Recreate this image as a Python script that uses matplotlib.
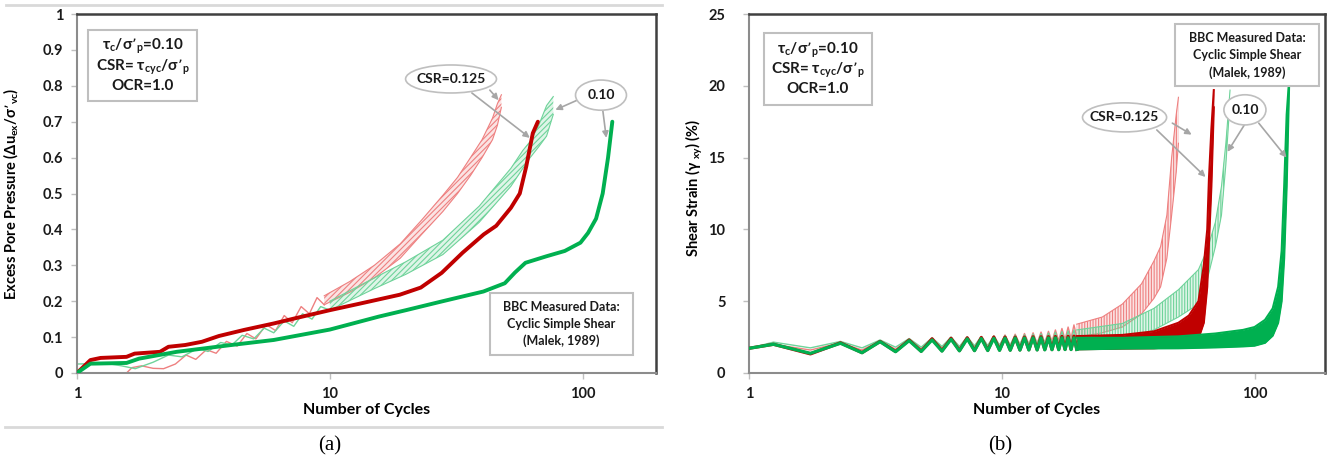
import numpy as np
import matplotlib
matplotlib.use("Agg")
import matplotlib.pyplot as plt
from matplotlib.colors import to_rgba
from matplotlib.patches import Rectangle, Ellipse
from matplotlib.lines import Line2D

plt.rcParams['font.family'] = ['Lato', 'DejaVu Sans']
plt.rcParams['font.weight'] = 'bold'
plt.rcParams['mathtext.default'] = 'regular'
plt.rcParams['hatch.linewidth'] = 0.8

# ---- panel (a): excess pore pressure ----
a_red_n = [1, 1.13, 1.24, 1.57, 1.69, 2.13, 2.3, 2.68, 3.12, 3.64, 4.58, 6.0, 7.25, 10,
           12.9, 18.9, 22.9, 27.7, 33.5, 40.6, 45.5, 52, 56.4, 59.8, 63.5, 66.5]
a_red_v = [0, 0.036, 0.042, 0.045, 0.054, 0.059, 0.073, 0.078, 0.087, 0.103, 0.12, 0.138,
           0.152, 0.175, 0.192, 0.218, 0.238, 0.279, 0.335, 0.386, 0.41, 0.46, 0.50, 0.575,
           0.668, 0.70]

a_green_n = [1, 1.13, 1.57, 1.76, 2.48, 4.08, 6.0, 10, 15.6, 20, 27.6, 40.5, 49.2, 54,
             59.4, 71.8, 85, 98, 105, 113, 120, 126, 131]
a_green_v = [0, 0.026, 0.028, 0.04, 0.059, 0.078, 0.092, 0.121, 0.157, 0.175, 0.199, 0.227,
             0.25, 0.28, 0.307, 0.325, 0.34, 0.363, 0.39, 0.43, 0.5, 0.6, 0.70]

a_pink_n = [1.57, 1.65, 1.8, 2.0, 2.2, 2.45, 2.7, 2.95, 3.25, 3.55, 3.9, 4.3, 4.7, 5.1,
            5.6, 6.1, 6.6, 7.1, 7.7, 8.3, 8.9, 9.5]
a_pink_v = [0.0, 0.015, 0.02, 0.013, 0.012, 0.025, 0.05, 0.038, 0.065, 0.055, 0.088, 0.075,
            0.11, 0.095, 0.135, 0.118, 0.16, 0.14, 0.185, 0.165, 0.21, 0.19]
a_pink_band_n = [9.5, 12, 15, 19, 23, 28, 32, 36, 40, 44, 46, 47.7]
a_pink_lo = [0.19, 0.225, 0.265, 0.32, 0.385, 0.45, 0.5, 0.55, 0.6, 0.65, 0.69, 0.74]
a_pink_hi = [0.215, 0.255, 0.30, 0.36, 0.425, 0.495, 0.545, 0.60, 0.65, 0.71, 0.75, 0.775]

a_lgreen_n = [1, 1.3, 1.5, 1.7, 2.0, 2.3, 2.6, 3.0, 3.3, 3.7, 4.1, 4.5, 5.0, 5.5, 6.0,
              6.6, 7.2, 7.8, 8.5, 9.2, 10]
a_lgreen_v = [0.025, 0.027, 0.02, 0.012, 0.03, 0.05, 0.045, 0.068, 0.06, 0.085, 0.078,
              0.105, 0.095, 0.125, 0.112, 0.145, 0.13, 0.165, 0.15, 0.185, 0.175]
a_lgreen_band_n = [10, 15, 20, 28, 39, 52, 58, 62, 67, 72, 76.5]
a_lgreen_lo = [0.175, 0.235, 0.275, 0.33, 0.42, 0.52, 0.57, 0.60, 0.63, 0.66, 0.72]
a_lgreen_hi = [0.20, 0.265, 0.31, 0.37, 0.465, 0.57, 0.62, 0.645, 0.69, 0.745, 0.77]

# ---- panel (b): shear strain, turning points of each cycle up to N~20 ----
b_turn_n = [1, 1.25, 1.75, 2.3, 2.8, 3.3, 3.8, 4.3, 4.8, 5.3, 5.8, 6.3, 6.8, 7.3, 7.8,
            8.3, 8.8, 9.3, 9.8, 10.3, 10.8, 11.3, 11.8, 12.3, 12.8, 13.3, 13.8, 14.3,
            14.8, 15.3, 15.8, 16.3, 16.8, 17.3, 17.8, 18.3, 18.8, 19.3, 19.8]

b_green_v = [1.72, 2.0, 1.37, 2.07, 1.41, 2.18, 1.48, 2.25, 1.5, 2.3, 1.52, 2.35, 1.54,
             2.38, 1.55, 2.4, 1.56, 2.42, 1.57, 2.43, 1.58, 2.44, 1.59, 2.44, 1.6, 2.45,
             1.6, 2.45, 1.61, 2.45, 1.62, 2.45, 1.62, 2.45, 1.63, 2.45, 1.63, 2.45, 1.64]
b_green_band_n = [19.8, 30, 50, 70, 90, 100, 110, 118, 124, 128, 131, 134, 137]
b_green_lo = [1.64, 1.7, 1.72, 1.78, 1.85, 1.9, 2.1, 2.6, 3.5, 5, 8, 13, 20.0]
b_green_hi = [2.45, 2.45, 2.55, 2.75, 3.0, 3.2, 3.7, 4.5, 6, 8.5, 13, 18, 20.4]

b_red_v = [1.72, 2.0, 1.33, 2.1, 1.42, 2.2, 1.5, 2.3, 1.52, 2.38, 1.55, 2.42, 1.56,
           2.45, 1.57, 2.47, 1.58, 2.5, 1.6, 2.5, 1.6, 2.5, 1.61, 2.5, 1.62, 2.52, 1.62,
           2.52, 1.63, 2.53, 1.63, 2.54, 1.64, 2.55, 1.64, 2.56, 1.65, 2.57, 1.65]
b_red_band_n = [19.8, 30, 40, 50, 55, 60, 63, 65, 66, 67.5, 69]
b_red_lo = [1.65, 1.7, 1.72, 1.85, 2.0, 2.4, 3.5, 6, 9, 13, 18.5]
b_red_hi = [2.57, 2.65, 2.9, 3.5, 4.0, 5.0, 7.5, 10, 13.5, 17, 19.7]

b_pink_v = [1.72, 2.0, 1.6, 2.1, 1.6, 2.25, 1.65, 2.35, 1.7, 2.4, 1.75, 2.45, 1.8, 2.5,
            1.82, 2.52, 1.85, 2.6, 1.88, 2.65, 1.9, 2.7, 1.95, 2.75, 2.0, 2.8, 2.05, 2.85,
            2.1, 2.9, 2.2, 3.0, 2.25, 3.1, 2.32, 3.2, 2.4, 3.35, 2.5]
b_pink_band_n = [19.8, 25, 30, 35.7, 40, 42.5, 45, 47, 49, 50]
b_pink_lo = [2.5, 2.8, 3.2, 4.1, 5.2, 6.0, 8, 11, 14, 16]
b_pink_hi = [3.4, 3.9, 4.8, 6.2, 7.8, 8.8, 11, 15, 18, 19.2]

b_lgreen_v = [1.72, 2.15, 1.75, 2.2, 1.75, 2.3, 1.8, 2.4, 1.8, 2.45, 1.85, 2.5, 1.85,
              2.52, 1.9, 2.55, 1.92, 2.58, 1.95, 2.6, 1.95, 2.63, 2.0, 2.66, 2.02, 2.7,
              2.05, 2.73, 2.07, 2.78, 2.1, 2.83, 2.12, 2.88, 2.15, 2.93, 2.18, 3.0, 2.2]
b_lgreen_band_n = [19.8, 30, 40, 50, 60, 65, 70, 74, 77, 80]
b_lgreen_lo = [2.2, 2.3, 3.0, 3.9, 4.8, 6.5, 8.8, 11, 14.5, 19]
b_lgreen_hi = [3.0, 3.45, 4.5, 5.8, 7.2, 8.6, 10.5, 13, 16, 19.7]

x_ticks = [1, 10, 100]
x_ticklabels = ['1', '10', '100']
a_yticks = [0, 0.1, 0.2, 0.3, 0.4, 0.5, 0.6, 0.7, 0.8, 0.9, 1.0]
a_yticklabels = ['0', '0.1', '0.2', '0.3', '0.4', '0.5', '0.6', '0.7', '0.8', '0.9', '1']
b_yticks = [0, 5, 10, 15, 20, 25]

RED = '#c00000'
PINK = '#ee8080'
GREEN = '#00b050'
LGREEN = '#6fd39a'
GRAY = '#a6a6a6'

W, H = 1335, 466
fig = plt.figure(figsize=(W / 100, H / 100), dpi=100)
axa = fig.add_axes([77 / W, 1 - 373 / H, 579 / W, 359 / H])
axb = fig.add_axes([749 / W, 1 - 373 / H, 576 / W, 359 / H])


def style_axes(ax, xmax, ymax, yticks, yticklabels, pad):
    ax.set_xscale('log')
    ax.set_xlim(1, xmax)
    ax.set_ylim(0, ymax)
    ax.set_xticks(x_ticks)
    ax.set_xticklabels(x_ticklabels)
    ax.xaxis.set_minor_locator(matplotlib.ticker.NullLocator())
    ax.set_yticks(yticks)
    ax.set_yticklabels(yticklabels)
    ax.tick_params(axis='both', length=4, width=1, color='#bfbfbf', labelsize=10.5,
                   labelcolor='#1a1a1a')
    ax.tick_params(axis='y', pad=pad)
    ax.tick_params(axis='x', pad=6)
    for side in ['left', 'bottom']:
        ax.spines[side].set_color('#8c8c8c')
        ax.spines[side].set_linewidth(1.5)
    for side in ['top', 'right']:
        ax.spines[side].set_color('#404040')
        ax.spines[side].set_linewidth(1.8)
    ax.set_xlabel('Number of Cycles', fontsize=11.5, fontweight='bold')
    ax.xaxis.set_label_coords(0.5, -0.083)


def solid_band(ax, n, lo, hi, color, z):
    ax.fill_between(n, lo, hi, color=color, lw=0, zorder=z)
    ax.plot(n, lo, color=color, lw=1.5, zorder=z)
    ax.plot(n, hi, color=color, lw=1.5, zorder=z)


def hatched_band(ax, n, lo, hi, color, hatch, z):
    ax.fill_between(n, lo, hi, facecolor=to_rgba(color, 0.22), edgecolor=color,
                    hatch=hatch, lw=0, zorder=z)
    ax.plot(n, lo, color=color, lw=0.8, zorder=z)
    ax.plot(n, hi, color=color, lw=0.8, zorder=z)


# panel (a)
axa.plot(a_pink_n, a_pink_v, color=PINK, lw=1.0, zorder=2)
hatched_band(axa, a_pink_band_n, a_pink_lo, a_pink_hi, PINK, '//////', 2)
axa.plot(a_lgreen_n, a_lgreen_v, color=LGREEN, lw=1.0, zorder=2)
hatched_band(axa, a_lgreen_band_n, a_lgreen_lo, a_lgreen_hi, LGREEN, '//////', 2)
axa.plot(a_red_n, a_red_v, color=RED, lw=2.8, zorder=4, solid_capstyle='round')
axa.plot(a_green_n, a_green_v, color=GREEN, lw=2.8, zorder=5, solid_capstyle='round')
style_axes(axa, 195, 1.0, a_yticks, a_yticklabels, 6)
axa.set_ylabel('Excess Pore Pressure (\u0394u$_{ex}$/\u03c3\u2019$_{vc}$)',
               fontsize=10.5, fontweight='bold')
axa.yaxis.set_label_coords(-0.098, 0.5)

# panel (b)
axb.plot(b_turn_n, b_pink_v, color=PINK, lw=1.0, zorder=2)
hatched_band(axb, b_pink_band_n, b_pink_lo, b_pink_hi, PINK, '||||||', 2)
axb.plot(b_turn_n, b_lgreen_v, color=LGREEN, lw=1.0, zorder=2)
hatched_band(axb, b_lgreen_band_n, b_lgreen_lo, b_lgreen_hi, LGREEN, '||||||', 2)
axb.plot(b_turn_n, b_red_v, color=RED, lw=2.3, zorder=4)
solid_band(axb, b_red_band_n, b_red_lo, b_red_hi, RED, 4)
axb.plot(b_turn_n, b_green_v, color=GREEN, lw=2.3, zorder=5)
solid_band(axb, b_green_band_n, b_green_lo, b_green_hi, GREEN, 5)
style_axes(axb, 190, 25, b_yticks, [str(v) for v in b_yticks], 13)
axb.set_ylabel('Shear Strain (\u03b3 $_{xy}$) (%)', fontsize=10.5, fontweight='bold')
axb.yaxis.set_label_coords(-0.076, 0.515)


def text_box(ax, x0, y0, x1, y1, lines, ys, fs):
    ax.add_patch(Rectangle((x0, y0), x1 - x0, y1 - y0, transform=ax.transAxes,
                           facecolor='white', edgecolor='#bfbfbf', lw=1.5, zorder=8))
    for s, y in zip(lines, ys):
        ax.text((x0 + x1) / 2, y, s, transform=ax.transAxes, ha='center', va='center',
                fontsize=fs, fontweight='bold', color='#1a1a1a', zorder=9)


params = ['\u03c4$_{c}$/\u03c3\u2019$_{p}$=0.10',
          'CSR= \u03c4$_{cyc}$/\u03c3\u2019$_{p}$',
          'OCR=1.0']
source = ['BBC Measured Data:', 'Cyclic Simple Shear', '(Malek, 1989)']

text_box(axa, 0.019, 0.758, 0.207, 0.955, params, [0.911, 0.852, 0.799], 11)
text_box(axa, 0.713, 0.050, 0.960, 0.224, source, [0.184, 0.136, 0.089], 9)
text_box(axb, 0.026, 0.7465, 0.2135, 0.947, params, [0.900, 0.844, 0.791], 11)
text_box(axb, 0.7396, 0.7994, 0.9896, 0.9721, source, [0.933, 0.886, 0.836], 9)


def callout(ax, cx, cy, w, h, label, arrows):
    ax.add_patch(Ellipse((cx, cy), w, h, transform=ax.transAxes, facecolor='white',
                         edgecolor='#bfbfbf', lw=1.2, zorder=8))
    ax.text(cx, cy, label, transform=ax.transAxes, ha='center', va='center',
            fontsize=10, fontweight='bold', color='#1a1a1a', zorder=9)
    for start, tip in arrows:
        ax.annotate('', xy=tip, xycoords='data', xytext=start, textcoords='axes fraction',
                    arrowprops=dict(arrowstyle='-|>', color=GRAY, lw=1.2,
                                    mutation_scale=9, shrinkA=0, shrinkB=0), zorder=7)


callout(axa, 0.646, 0.819, 0.157, 0.078, 'CSR=0.125',
        [((0.713, 0.788), (46.5, 0.76)), ((0.682, 0.780), (61.8, 0.655))])
callout(axa, 0.905, 0.774, 0.088, 0.084, '0.10',
        [((0.864, 0.760), (78, 0.733)), ((0.908, 0.733), (124, 0.655))])
callout(axb, 0.652, 0.712, 0.146, 0.081, 'CSR=0.125',
        [((0.735, 0.696), (56.4, 16.6)), ((0.708, 0.677), (64, 13.65))])
callout(axb, 0.861, 0.733, 0.073, 0.084, '0.10',
        [((0.860, 0.691), (78.2, 15.4)), ((0.885, 0.696), (133.8, 15.0))])

# panel captions
fig.text(330 / W, 1 - 446 / H, '(a)', ha='center', va='center', fontsize=15,
         family='Liberation Serif', fontweight='normal')
fig.text(1000 / W, 1 - 446 / H, '(b)', ha='center', va='center', fontsize=15,
         family='Liberation Serif', fontweight='normal')

# table rules from the source document
fig.add_artist(Line2D([6 / W, 662 / W], [1 - 5 / H, 1 - 5 / H], color='#d9d9d9', lw=2))
fig.add_artist(Line2D([5 / W, 662 / W], [1 - 427 / H, 1 - 427 / H], color='#d9d9d9', lw=2))

fig.savefig('out.png', dpi=100, facecolor='white')
